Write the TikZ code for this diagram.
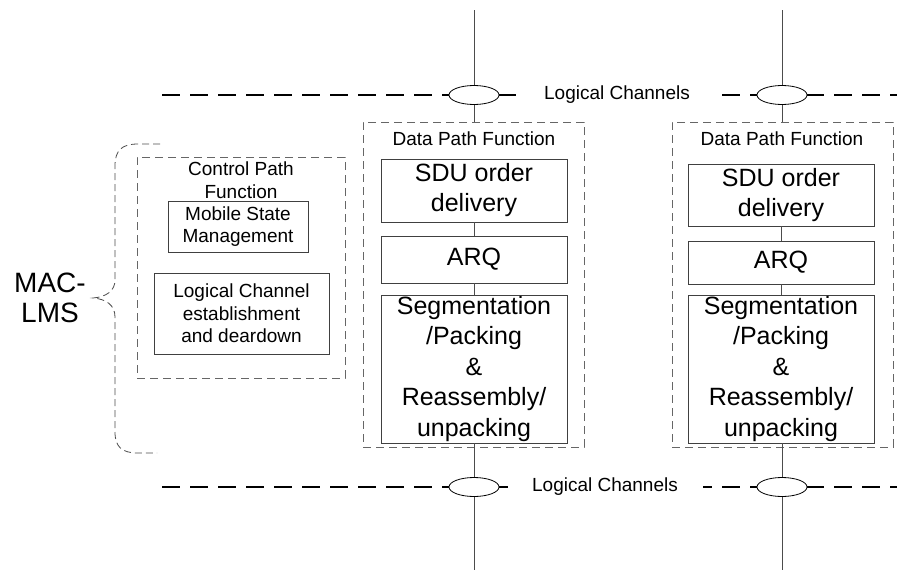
\documentclass[tikz,border=0pt]{standalone}
\usepackage{fontspec}
\setmainfont{Liberation Sans}
\usetikzlibrary{shapes.geometric}
\begin{document}
\begin{tikzpicture}[x=1pt,y=-1pt,
 solidbox/.style={draw=black!75, line width=0.8pt, rectangle, inner sep=0pt, align=center},
 dbox/.style={draw=black!60, line width=0.8pt, dash pattern=on 8pt off 5pt, rectangle, inner sep=0pt},
 chan/.style={line width=2.6pt, dash pattern=on 18pt off 10pt},
 vline/.style={draw=black!70, line width=1pt},
 ell/.style={ellipse, draw, fill=white, line width=0.8pt, minimum width=50pt, minimum height=19pt, inner sep=0pt},
 big/.style={font=\fontsize{25}{30}\selectfont, align=center},
 mid/.style={font=\fontsize{19}{22.5}\selectfont, align=center},
 huge/.style={font=\fontsize{28}{30}\selectfont, align=center},
]
\useasboundingbox (0,0) rectangle (897,570);

% channel lines
\coordinate (tl1) at (162,95); \coordinate (tr1) at (516,95);
\coordinate (tl2) at (722,95); \coordinate (tr2) at (897,95);
\coordinate (bl1) at (162,487); \coordinate (br1) at (508,487);
\coordinate (bl2) at (703,487); \coordinate (br2) at (897,487);
\draw[chan] (tl1) -- (tr1);
\draw[chan] (tl2) -- (tr2);
\draw[chan] (bl1) -- (br1);
\draw[chan, dash phase=9pt] (bl2) -- (br2);

% data path column 1
\node[dbox, minimum width=221pt, minimum height=325pt] (dp1) at (473.5,284.5) {};
\node[mid] (dpt1) at (474,139) {Data Path Function};
\node[solidbox, big, minimum width=186pt, minimum height=63pt] (sdu1) at (474,190.5) {SDU order\\delivery};
\node[solidbox, big, minimum width=186pt, minimum height=47pt] (arq1) at (474,259.5) {ARQ};
\node[solidbox, big, minimum width=186pt, minimum height=148pt, font=\fontsize{25}{30.5}\selectfont] (seg1) at (474,369) {Segmentation\\/Packing\\\&\\Reassembly/\\unpacking};

% data path column 2
\node[dbox, minimum width=221pt, minimum height=325pt] (dp2) at (782.5,284.5) {};
\node[mid] (dpt2) at (782,139) {Data Path Function};
\node[solidbox, big, minimum width=186pt, minimum height=62pt] (sdu2) at (781,195) {SDU order\\delivery};
\node[solidbox, big, minimum width=186pt, minimum height=43pt] (arq2) at (781,262.5) {ARQ};
\node[solidbox, big, minimum width=186pt, minimum height=148pt, font=\fontsize{25}{30.5}\selectfont] (seg2) at (781,369) {Segmentation\\/Packing\\\&\\Reassembly/\\unpacking};

% vertical lines
\coordinate (vt1) at (474,10); \coordinate (vb1) at (474,570);
\coordinate (vt2) at (782,10); \coordinate (vb2) at (782,570);
\draw[vline] (vt1) -- (vt1 |- dp1.north);
\draw[vline] (sdu1) -- (arq1);
\draw[vline] (arq1) -- (seg1);
\draw[vline] (seg1.south) -- (vb1);
\draw[vline] (vt2) -- (vt2 |- dp2.north);
\draw[vline] (sdu2.south) -- (sdu2.south |- arq2.north);
\draw[vline] (arq2.south) -- (arq2.south |- seg2.north);
\draw[vline] (vb2 |- seg2.south) -- (vb2);

% ellipses
\node[ell] (e1) at (474,95) {};
\node[ell] (e2) at (782,95) {};
\node[ell] (e3) at (474,487) {};
\node[ell] (e4) at (782,487) {};

\node[mid] (lc1) at (617,95) {Logical Channels};
\node[mid] (lc2) at (605,487) {Logical Channels};

% control path
\node[dbox, minimum width=208pt, minimum height=221pt] (cp) at (241,267.5) {};
\node[mid, font=\fontsize{19}{23}\selectfont] (cpt) at (241,180) {Control Path\\Function};
\node[solidbox, mid, minimum width=140pt, minimum height=51pt] (msm) at (238,226.5) {Mobile State\\Management};
\node[solidbox, mid, minimum width=175pt, minimum height=81pt] (lce) at (241.5,313.5) {Logical Channel\\establishment\\and deardown};

% brace
\draw[draw=black!70, line width=0.8pt, dash pattern=on 7pt off 4pt]
  (160,144) -- (138,144) .. controls (122,144) and (115,150) .. (115,166)
  -- (115,280) .. controls (115,291) and (106,297) .. (93,298)
  .. controls (106,299) and (115,305) .. (115,317)
  -- (115,432) .. controls (115,447) and (122,453) .. (138,453) -- (157,453);
\node[huge] (mac) at (50,298) {MAC-\\LMS};
\end{tikzpicture}
\end{document}
